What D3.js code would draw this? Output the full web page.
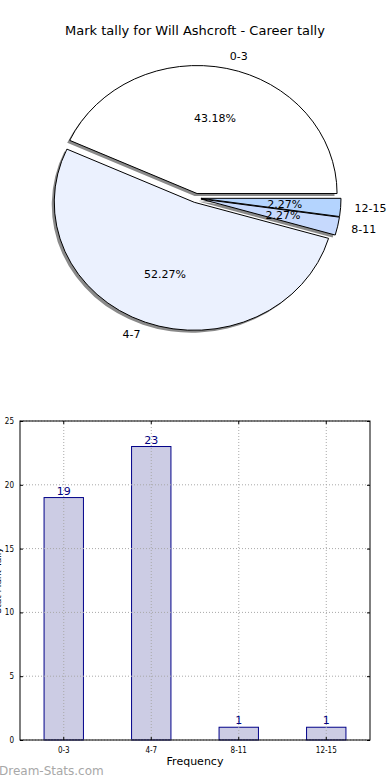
<!DOCTYPE html>
<html lang="en">
<head>
<meta charset="UTF-8">
<script src="https://d3js.org/d3.v7.min.js"></script>
<title>Mark tally</title>
<style>
    body { margin: 0; padding: 0; background: #fff; }
    svg { display: block; font-family: "DejaVu Sans", sans-serif; }
</style>
</head>
<body>
<script>
    // data
    var categories = ['0-3', '4-7', '8-11', '12-15']
    var tally = [19, 23, 1, 1]
    var sliceColors = ['#ffffff', '#ebf1fe', '#c6d9fd', '#b4d4fe']
    var yTicks = [0, 5, 10, 15, 20, 25]

    var svg = d3.select('body').append('svg')
        .attr('width', 390)
        .attr('height', 780)

    // ---- pie ----
    svg.append('text')
        .attr('x', 195).attr('y', 35)
        .attr('text-anchor', 'middle')
        .style('font-size', '13px')
        .text('Mark tally for Will Ashcroft - Career tally')

    var cx = 196, cy = 198, rx = 140, ry = 128, explode = 5
    var total = d3.sum(tally)
    // matplotlib style: start at 3 o'clock, counter-clockwise
    var pie = d3.pie().sort(null)
        .startAngle(Math.PI / 2)
        .endAngle(Math.PI / 2 - 2 * Math.PI)
    var arcs = pie(tally)
    var arc = d3.arc().innerRadius(0).outerRadius(rx)

    function mid(d) { return (d.startAngle + d.endAngle) / 2 }
    function offset(d, k) {
        var a = mid(d)
        return [Math.sin(a) * k * rx, -Math.cos(a) * k * ry]
    }
    function sliceTransform(d, dx, dy) {
        var o = offset(d, explode / rx)
        return 'translate(' + (cx + o[0] + dx) + ',' + (cy + o[1] + dy) + ') scale(1,' + (ry / rx) + ')'
    }

    var pieG = svg.append('g')

    // shadows first
    pieG.selectAll('path.shadow')
        .data(arcs)
        .enter().append('path')
        .attr('class', 'shadow')
        .attr('transform', function (d) { return sliceTransform(d, -2.5, 2.5) })
        .attr('d', arc)
        .attr('fill', '#8a8a8a')

    pieG.selectAll('path.face')
        .data(arcs)
        .enter().append('path')
        .attr('class', 'face')
        .attr('transform', function (d) { return sliceTransform(d, 0, 0) })
        .attr('d', arc)
        .attr('fill', function (d, i) { return sliceColors[i] })
        .attr('stroke', '#000')
        .attr('stroke-width', 1)
        .attr('vector-effect', 'non-scaling-stroke')

    pieG.selectAll('text.lbl')
        .data(arcs)
        .enter().append('text')
        .attr('class', 'lbl')
        .attr('x', function (d) { return cx + offset(d, 1.1 + explode / rx)[0] })
        .attr('y', function (d) { return cy + offset(d, 1.1 + explode / rx)[1] })
        .attr('dy', '0.35em')
        .attr('text-anchor', function (d) { return Math.sin(mid(d)) > 0 ? 'start' : 'end' })
        .style('font-size', '11px')
        .text(function (d, i) { return categories[i] })

    pieG.selectAll('text.pct')
        .data(arcs)
        .enter().append('text')
        .attr('class', 'pct')
        .attr('x', function (d) { return cx + offset(d, 0.6 + explode / rx)[0] })
        .attr('y', function (d) { return cy + offset(d, 0.6 + explode / rx)[1] })
        .attr('dy', '0.35em')
        .attr('text-anchor', 'middle')
        .style('font-size', '11px')
        .text(function (d) { return (d.value / total * 100).toFixed(2) + '%' })

    // ---- bars ----
    var plotL = 20, plotR = 370, plotT = 421, plotB = 740

    var x = d3.scaleBand().domain(categories)
        .range([plotL, plotR])
        .paddingInner(0.55).paddingOuter(0.275)
    var y = d3.scaleLinear().domain([0, 25]).range([plotB, plotT])

    svg.selectAll('rect.bar')
        .data(tally)
        .enter().append('rect')
        .attr('class', 'bar')
        .attr('x', function (d, i) { return x(categories[i]) })
        .attr('y', function (d) { return y(d) })
        .attr('width', x.bandwidth())
        .attr('height', function (d) { return plotB - y(d) })
        .attr('fill', '#cccce4')
        .attr('stroke', '#000088')
        .attr('stroke-width', 1)

    // grid lines show through the bars in the original
    var grid = svg.append('g')
        .attr('stroke', '#a8a8a8')
        .attr('stroke-dasharray', '1,2')
    grid.selectAll('line.gy').data(yTicks).enter().append('line')
        .attr('x1', plotL).attr('x2', plotR)
        .attr('y1', function (d) { return y(d) }).attr('y2', function (d) { return y(d) })
    grid.selectAll('line.gx').data(categories).enter().append('line')
        .attr('x1', function (d) { return x(d) + x.bandwidth() / 2 })
        .attr('x2', function (d) { return x(d) + x.bandwidth() / 2 })
        .attr('y1', plotT).attr('y2', plotB)

    svg.selectAll('text.val')
        .data(tally)
        .enter().append('text')
        .attr('class', 'val')
        .attr('x', function (d, i) { return x(categories[i]) + x.bandwidth() / 2 })
        .attr('y', function (d) { return y(d) - 3 })
        .attr('text-anchor', 'middle')
        .attr('fill', '#000080')
        .style('font-size', '11px')
        .text(function (d) { return d })

    // frame
    svg.append('rect')
        .attr('x', plotL).attr('y', plotT)
        .attr('width', plotR - plotL).attr('height', plotB - plotT)
        .attr('fill', 'none').attr('stroke', '#000').attr('stroke-width', 1)

    svg.append('g')
        .attr('transform', 'translate(' + plotL + ',0)')
        .call(d3.axisLeft(y).tickValues(yTicks).tickSizeInner(-3).tickSizeOuter(0).tickPadding(6))
    svg.append('g')
        .attr('transform', 'translate(0,' + plotB + ')')
        .call(d3.axisBottom(x).tickSizeInner(-3).tickSizeOuter(0).tickPadding(7))
    svg.append('g')
        .attr('transform', 'translate(' + plotR + ',0)')
        .call(d3.axisRight(y).tickValues(yTicks).tickSizeInner(-3).tickSizeOuter(0).tickFormat(''))
    svg.append('g')
        .attr('transform', 'translate(0,' + plotT + ')')
        .call(d3.axisTop(x).tickSizeInner(-3).tickSizeOuter(0).tickFormat(''))
    svg.selectAll('.domain').remove()
    svg.selectAll('.tick text')
        .style('font-family', '"DejaVu Sans Condensed", "DejaVu Sans", sans-serif')
        .style('font-size', '8px')
        .attr('fill', '#000')

    svg.append('text')
        .attr('x', (plotL + plotR) / 2).attr('y', 765)
        .attr('text-anchor', 'middle')
        .style('font-size', '11px')
        .text('Frequency')

    svg.append('text')
        .attr('transform', 'translate(1,' + ((plotT + plotB) / 2) + ') rotate(-90)')
        .attr('text-anchor', 'middle')
        .style('font-size', '9px')
        .text('Stat Mark Tally')

    svg.append('text')
        .attr('x', -1).attr('y', 775)
        .attr('fill', '#a8a8a8')
        .style('font-size', '12px')
        .text('Dream-Stats.com')
</script>
</body>
</html>
